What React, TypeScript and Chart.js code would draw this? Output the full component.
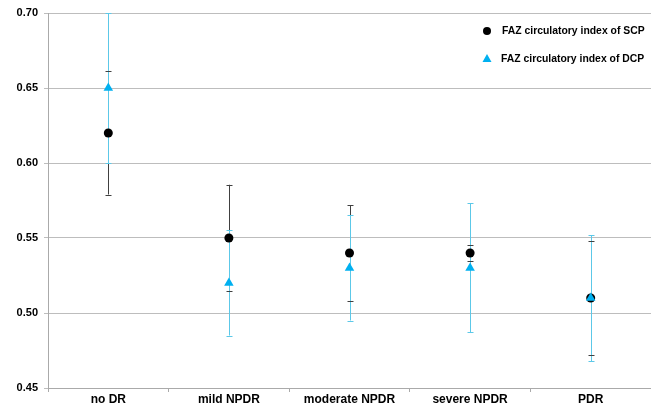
import React, { useEffect, useRef } from "react";
import { Chart, registerables } from "chart.js";

Chart.register(...registerables);

const categories = ["no DR", "mild NPDR", "moderate NPDR", "severe NPDR", "PDR"];
const scpValues = [0.62, 0.55, 0.54, 0.54, 0.51];
const scpErrors = [0.041, 0.0355, 0.032, 0.005, 0.038];
const dcpValues = [0.65, 0.52, 0.53, 0.53, 0.51];
const dcpErrors = [0.05, 0.035, 0.035, 0.043, 0.042];
const seriesNames = ["FAZ circulatory index of SCP", "FAZ circulatory index of DCP"];

const SCP_COLOR = "#000000";
const SCP_BAR = "#404040";
const DCP_COLOR = "#00B0F0";
const DCP_BAR = "#5CC8E8";

const errorBarPlugin = {
  id: "errorBars",
  beforeDatasetsDraw(chart: any) {
    const ctx = chart.ctx;
    const xs = chart.scales.x;
    const ys = chart.scales.y;
    const sets = [
      { v: scpValues, e: scpErrors, c: SCP_BAR },
      { v: dcpValues, e: dcpErrors, c: DCP_BAR },
    ];
    ctx.save();
    ctx.lineWidth = 1;
    sets.forEach((s) => {
      ctx.strokeStyle = s.c;
      s.v.forEach((val, j) => {
        const x = Math.round(xs.getPixelForValue(j)) + 0.5;
        ctx.beginPath();
        ctx.moveTo(x, ys.getPixelForValue(val + s.e[j]));
        ctx.lineTo(x, ys.getPixelForValue(val - s.e[j]));
        ctx.stroke();
      });
    });
    [sets[1], sets[0]].forEach((s) => {
      ctx.strokeStyle = s.c;
      s.v.forEach((val, j) => {
        const x = Math.round(xs.getPixelForValue(j)) + 0.5;
        [val + s.e[j], val - s.e[j]].forEach((yv) => {
          const y = Math.round(ys.getPixelForValue(yv)) + 0.5;
          ctx.beginPath();
          ctx.moveTo(x - 3, y);
          ctx.lineTo(x + 3, y);
          ctx.stroke();
        });
      });
    });
    ctx.restore();
  },
};

const legendPlugin = {
  id: "customLegend",
  afterDraw(chart: any) {
    const ctx = chart.ctx;
    ctx.save();
    ctx.font = "bold 10.4px Arial, 'Liberation Sans', sans-serif";
    ctx.textBaseline = "middle";
    ctx.beginPath();
    ctx.arc(487, 31, 4, 0, Math.PI * 2);
    ctx.fillStyle = SCP_COLOR;
    ctx.fill();
    ctx.fillStyle = "#000";
    ctx.fillText(seriesNames[0], 502, 31, 146);
    ctx.beginPath();
    ctx.moveTo(487, 54);
    ctx.lineTo(491.5, 62);
    ctx.lineTo(482.5, 62);
    ctx.closePath();
    ctx.fillStyle = DCP_COLOR;
    ctx.fill();
    ctx.fillStyle = "#000";
    ctx.fillText(seriesNames[1], 501, 59, 147);
    ctx.restore();
  },
};

export default function App() {
  const ref = useRef<HTMLCanvasElement>(null);
  useEffect(() => {
    document.body.style.margin = "0";
    const chart = new Chart(ref.current!, {
      type: "line",
      data: {
        labels: categories,
        datasets: [
          {
            label: seriesNames[0],
            data: scpValues,
            showLine: false,
            pointStyle: "circle",
            pointRadius: 4.5,
            pointBackgroundColor: SCP_COLOR,
            pointBorderColor: SCP_COLOR,
            pointBorderWidth: 0,
            order: 2,
          },
          {
            label: seriesNames[1],
            data: dcpValues,
            showLine: false,
            pointStyle: "triangle",
            pointRadius: 5.5,
            pointBackgroundColor: DCP_COLOR,
            pointBorderColor: DCP_COLOR,
            pointBorderWidth: 0,
            order: 1,
          },
        ],
      },
      options: {
        animation: false,
        responsive: false,
        maintainAspectRatio: false,
        layout: { autoPadding: false, padding: { top: 13, right: 0, left: 0, bottom: 0 } },
        plugins: { legend: { display: false }, tooltip: { enabled: false } },
        scales: {
          x: {
            offset: true,
            grid: {
              offset: true,
              drawOnChartArea: false,
              drawTicks: true,
              tickLength: 4,
              color: "#aaaaaa",
            },
            border: { color: "#aaaaaa" },
            ticks: {
              color: "#000",
              font: { family: "Arial, 'Liberation Sans', sans-serif", size: 12, weight: "bold" },
              padding: 0,
              maxRotation: 0,
            },
            afterFit(scale: any) {
              scale.height = 22;
            },
          },
          y: {
            min: 0.45,
            max: 0.7,
            ticks: {
              stepSize: 0.05,
              color: "#000",
              font: { family: "Arial, 'Liberation Sans', sans-serif", size: 11, weight: "bold" },
              callback: (v: any) => Number(v).toFixed(2),
              padding: 6,
            },
            grid: { color: "#bdbdbd", tickLength: 4, drawTicks: true },
            border: { color: "#aaaaaa" },
            afterFit(scale: any) {
              scale.width = 48;
            },
          },
        },
      },
      plugins: [errorBarPlugin, legendPlugin],
    });
    return () => chart.destroy();
  }, []);
  return (
    <div style={{ width: 651, height: 410 }}>
      <canvas ref={ref} width={651} height={410} style={{ display: "block" }} />
    </div>
  );
}
